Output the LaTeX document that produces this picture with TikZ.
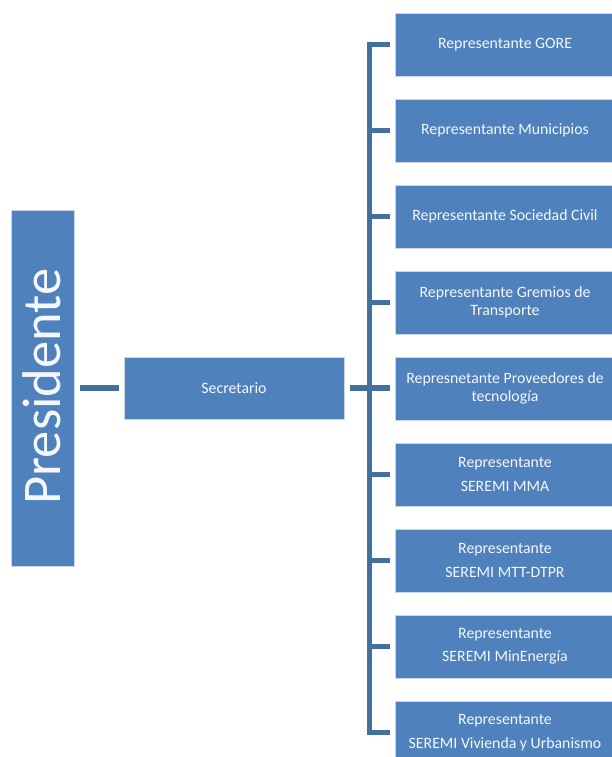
\documentclass[tikz,border=0pt]{standalone}
\usepackage{fontspec}
\setmainfont{Carlito}
\definecolor{boxblue}{HTML}{4F81BD}
\definecolor{connblue}{HTML}{41719C}
\definecolor{edgeblue}{HTML}{C9D6E8}
\definecolor{txt}{HTML}{F4F7FB}
\begin{document}
\begin{tikzpicture}[x=1pt,y=-1pt,
  bx/.style={draw=edgeblue, line width=0.6pt, fill=boxblue, text=txt, rectangle, inner sep=0pt, align=center},
  rbox/.style={bx, minimum width=220pt, minimum height=63pt, font=\fontsize{15.8}{18}\selectfont},
  rbox2/.style={bx, minimum width=220pt, minimum height=63pt, font=\fontsize{15.8}{23.5}\selectfont},
  conn/.style={draw=connblue, line width=5.5pt, line cap=butt, line join=miter}]
\useasboundingbox (0,0) rectangle (612,757);
\clip (0,0) rectangle (612,757);
% Presidente
\node[bx, minimum width=63pt, minimum height=356pt] (pres) at (42.5,388) {};
\node[text=txt, rotate=90, font=\fontsize{54.5}{60}\selectfont, inner sep=0pt] (prestext) at (41.5,386.5) {Presidente};
% Secretario
\node[bx, minimum width=220pt, minimum height=62pt, font=\fontsize{15.8}{18}\selectfont] (sec) at (234,388) {Secretario};
% Right column
\node[rbox] (r1) at (505,44.5) {Representante GORE};
\node[rbox] (r2) at (505,130.5) {Representante Municipios};
\node[rbox] (r3) at (505,216.5) {Representante Sociedad Civil};
\node[rbox] (r4) at (505,302.5) {Representante Gremios de\\Transporte};
\node[rbox] (r5) at (505,388.5) {Represnetante Proveedores de\\tecnología};
\node[rbox2] (r6) at (505,474.5) {Representante\\SEREMI MMA};
\node[rbox2] (r7) at (505,560.5) {Representante\\SEREMI MTT-DTPR};
\node[rbox2] (r8) at (505,646.5) {Representante\\SEREMI MinEnergía};
\node[rbox2] (r9) at (505,732.5) {Representante\\SEREMI Vivienda y Urbanismo};
% bus coordinate
\coordinate (bus) at (369.5,388);
% connectors
\draw[conn, shorten <=6pt, shorten >=5pt] (pres.east) -- (sec.west);
\draw[conn, shorten <=6pt, shorten >=5pt] (sec.east) -- (sec.east -| r1.west);
\draw[conn, shorten <=5pt, shorten >=5pt] (r1.west) -- (r1.west -| bus) |- (r9.west);
\foreach \n in {r2,r3,r4,r5,r6,r7,r8}{
  \draw[conn, shorten >=5pt] (\n.west -| bus) -- (\n.west);
}
\end{tikzpicture}
\end{document}
